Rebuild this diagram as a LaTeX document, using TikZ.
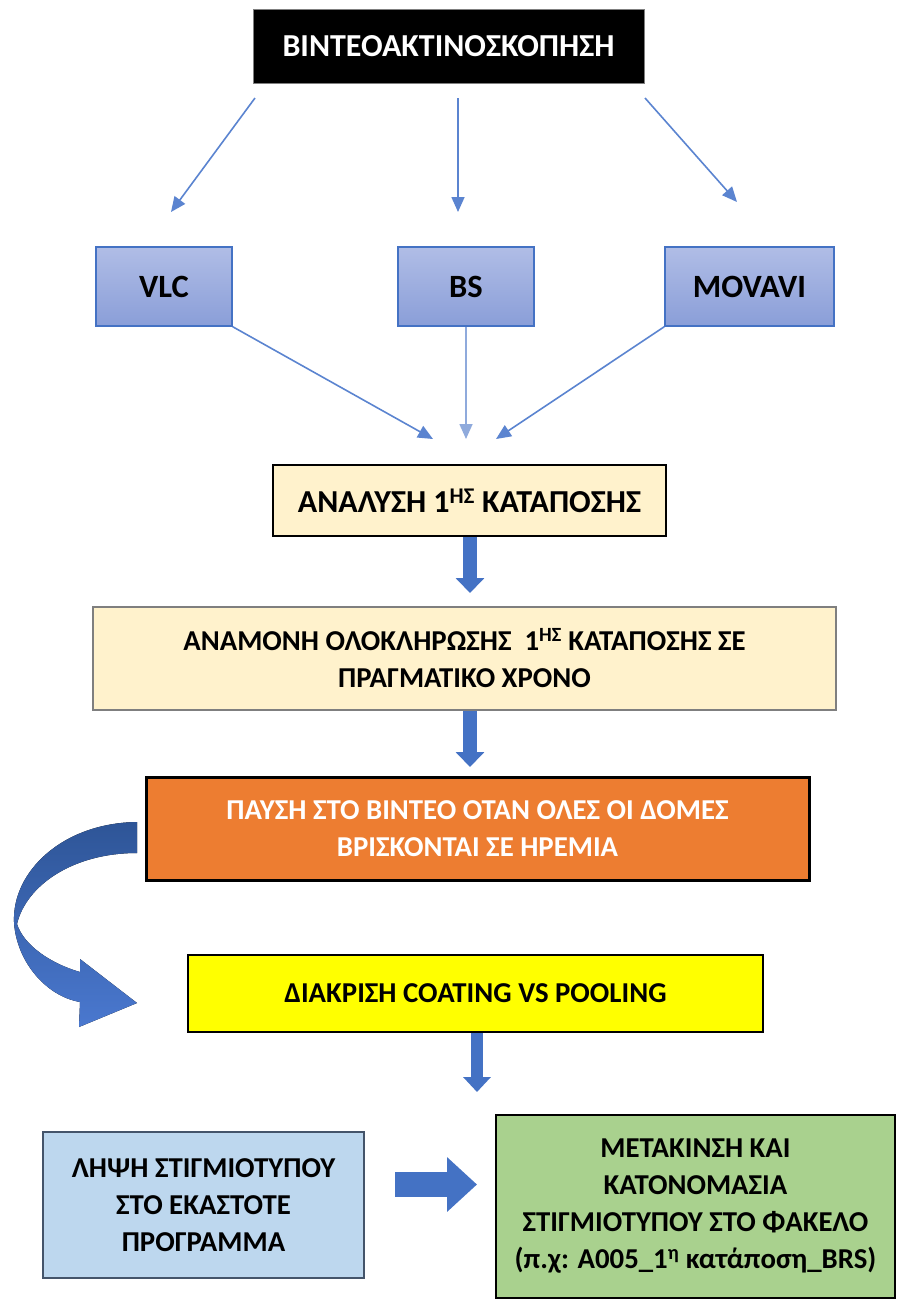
\documentclass[tikz,border=0pt]{standalone}
\usepackage{fontspec}
\setmainfont{Carlito}
\usetikzlibrary{arrows.meta}
\definecolor{accent}{HTML}{4472C4}
\definecolor{thinline}{HTML}{5B84D0}
\definecolor{bslight}{HTML}{8FAADC}
\definecolor{boxtop}{HTML}{B0BDE6}
\definecolor{boxbot}{HTML}{8A9ED8}
\definecolor{cream}{HTML}{FFF2CC}
\definecolor{orangefill}{HTML}{ED7D31}
\definecolor{yellowfill}{HTML}{FFFF00}
\definecolor{lightblue}{HTML}{BDD7EE}
\definecolor{greenfill}{HTML}{A9D18E}
\definecolor{darkblue}{HTML}{2E5597}
\definecolor{midblue}{HTML}{4A78CF}
\definecolor{grayedge}{HTML}{7F7F7F}
\definecolor{ltedge}{HTML}{44546A}
\tikzset{
  basebox/.style={rectangle, inner sep=0pt, align=center,
    font=\bfseries\fontsize{28.8pt}{37pt}\selectfont},
  softbox/.style={basebox, draw=accent, line width=1.5pt,
    top color=boxtop, bottom color=boxbot,
    font=\bfseries\fontsize{32.5pt}{36pt}\selectfont},
  thinarrow/.style={draw=thinline, line width=1.6pt,
    -{Triangle[width=13pt,length=15pt]}, color=thinline},
  blockdown/.style={draw=accent, line width=14pt,
    -{Triangle[width=28pt,length=15pt]}},
}
\begin{document}
\begin{tikzpicture}[x=1pt,y=-1pt]
\useasboundingbox (0,0) rectangle (899,1302);

% top box
\node[basebox, fill=black, draw=grayedge, line width=1pt, text=white,
  minimum width=391pt, minimum height=74pt,
  font=\bfseries\fontsize{32pt}{36pt}\selectfont] (top) at (448.5,46) {ΒΙΝΤΕΟΑΚΤΙΝΟΣΚΟΠΗΣΗ};

% software boxes
\node[softbox, minimum width=136pt, minimum height=79pt] (vlc) at (164,286.5) {VLC};
\node[softbox, minimum width=136pt, minimum height=79pt] (bs) at (466,286.5) {BS};
\node[softbox, minimum width=169pt, minimum height=79pt] (movavi) at (749.5,286.5) {MOVAVI};

% thin arrows from top
\coordinate (t1s) at (255,98);  \coordinate (t1e) at (171,212);
\coordinate (t2s) at (458,98);  \coordinate (t2e) at (458,212);
\coordinate (t3s) at (645,98);  \coordinate (t3e) at (737,202);
\draw[thinarrow] (t1s) -- (t1e);
\draw[thinarrow] (t2s) -- (t2e);
\draw[thinarrow] (t3s) -- (t3e);

% analysis box
\node[basebox, fill=cream, draw=black, line width=2pt,
  minimum width=393pt, minimum height=71pt,
  font=\bfseries\fontsize{32pt}{36pt}\selectfont] (analysh) at (469.5,500.5)
  {ΑΝΑΛΥΣΗ 1\textsuperscript{ΗΣ} ΚΑΤΑΠΟΣΗΣ};

% converging arrows
\coordinate (c1) at (433,439);
\coordinate (c2) at (466,439);
\coordinate (c3) at (496,439);
\draw[thinarrow] (vlc.south east) -- (c1);
\draw[thinarrow, draw=bslight, color=bslight] (bs.south) -- (c2);
\draw[thinarrow] (movavi.south west) -- (c3);

% waiting box
\node[basebox, fill=cream, draw=grayedge, line width=2pt,
  minimum width=743pt, minimum height=103pt] (anamonh) at (464.5,658.5)
  {ΑΝΑΜΟΝΗ ΟΛΟΚΛΗΡΩΣΗΣ\ \ 1\textsuperscript{ΗΣ} ΚΑΤΑΠΟΣΗΣ ΣΕ\\ΠΡΑΓΜΑΤΙΚΟ ΧΡΟΝΟ};

% pause box
\node[basebox, fill=orangefill, draw=black, line width=3pt, text=white,
  minimum width=663pt, minimum height=103pt] (pause) at (477.5,828.5)
  {ΠΑΥΣΗ ΣΤΟ ΒΙΝΤΕΟ ΟΤΑΝ ΟΛΕΣ ΟΙ ΔΟΜΕΣ\\ΒΡΙΣΚΟΝΤΑΙ ΣΕ ΗΡΕΜΙΑ};

% yellow box
\node[basebox, fill=yellowfill, draw=black, line width=2pt,
  minimum width=575pt, minimum height=77pt] (diak) at (475.5,993.5)
  {ΔΙΑΚΡΙΣΗ COATING VS POOLING};

% bottom boxes
\node[basebox, fill=lightblue, draw=ltedge, line width=2pt,
  minimum width=321pt, minimum height=146pt] (lhpsh) at (203.5,1205)
  {ΛΗΨΗ ΣΤΙΓΜΙΟΤΥΠΟΥ\\ΣΤΟ ΕΚΑΣΤΟΤΕ\\ΠΡΟΓΡΑΜΜΑ};
\node[basebox, fill=greenfill, draw=black, line width=2pt,
  minimum width=399pt, minimum height=183pt] (metak) at (695.5,1206.5)
  {ΜΕΤΑΚΙΝΣΗ ΚΑΙ\\ΚΑΤΟΝΟΜΑΣΙΑ\\ΣΤΙΓΜΙΟΤΥΠΟΥ ΣΤΟ ΦΑΚΕΛΟ\\(π.χ: A005\_1\textsuperscript{η} κατάποση\_BRS)};

% block arrows
\coordinate (b1) at (470,593);
\coordinate (b2) at (470,767);
\coordinate (b3) at (477,1092);
\draw[blockdown] (analysh.south -| b1) -- (b1);
\draw[blockdown] (anamonh.south -| b2) -- (b2);
\draw[blockdown, line width=12pt, -{Triangle[width=27pt,length=15pt]}] (diak.south -| b3) -- (b3);

\coordinate (h1) at (395,1184.5);
\coordinate (h2) at (477,1184.5);
\draw[draw=accent, line width=25pt, -{Triangle[width=53pt,length=30pt]}] (h1) -- (h2);

% curved arrow from pause box to yellow box
\fill[top color=darkblue, bottom color=midblue]
  (137,822) .. controls (62,823) and (12,872) .. (14,922)
  .. controls (16,960) and (45,996) .. (80,1002)
  -- (79,1027) -- (137,1003) -- (80,959) -- (80,972)
  .. controls (52,964) and (24,946) .. (17,924)
  .. controls (26,886) and (72,853) .. (137,853) -- cycle;
\end{tikzpicture}
\end{document}
